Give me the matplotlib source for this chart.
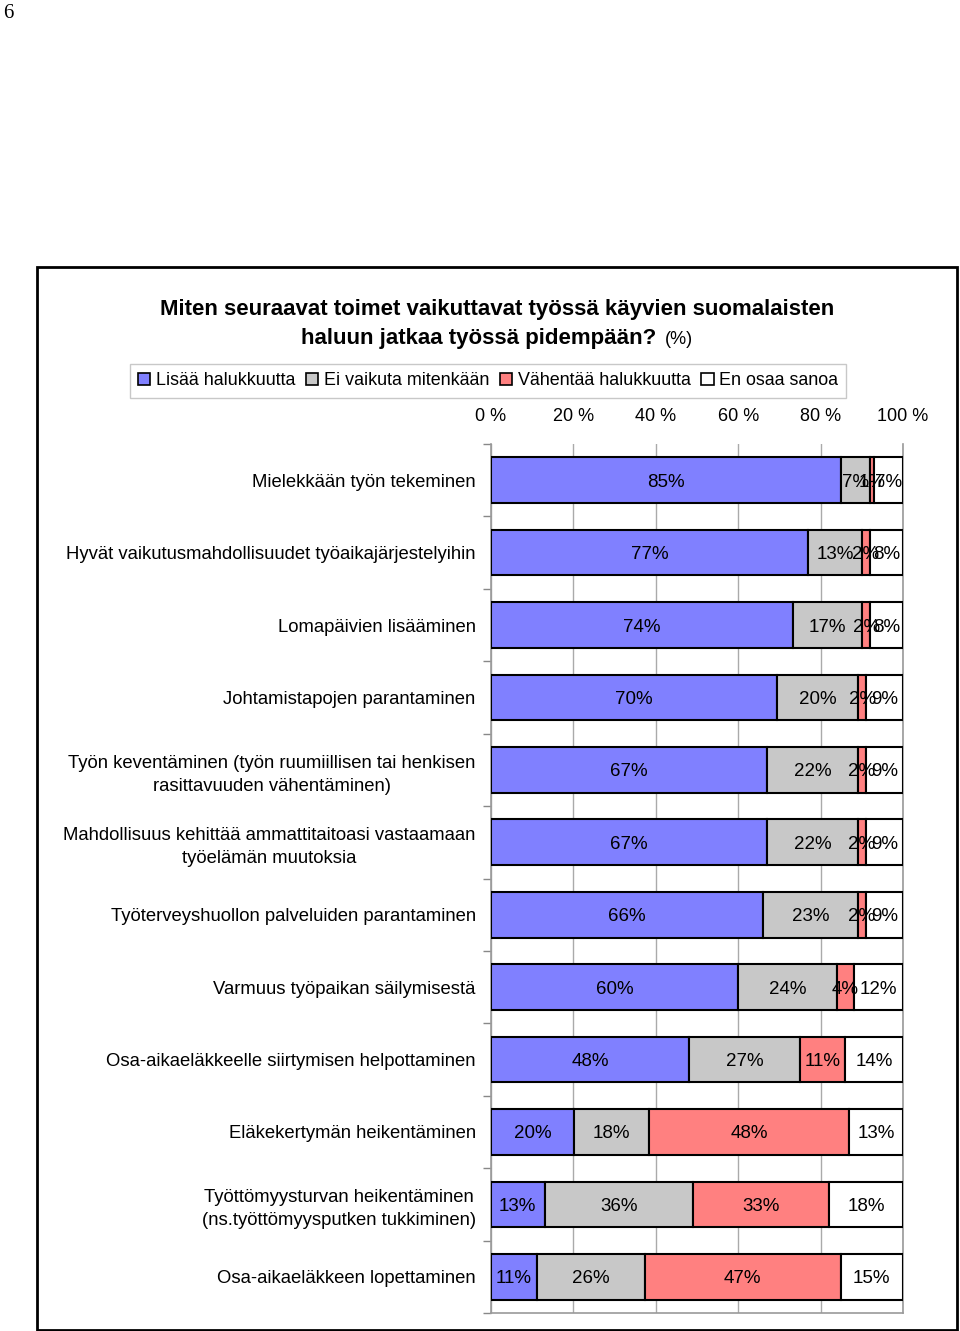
import matplotlib.pyplot as plt
import numpy as np
from matplotlib.patches import Rectangle, Patch

plt.rcParams['font.family'] = ['Liberation Sans', 'DejaVu Sans']

categories = [
    "Mielekkään työn tekeminen",
    "Hyvät vaikutusmahdollisuudet työaikajärjestelyihin",
    "Lomapäivien lisääminen",
    "Johtamistapojen parantaminen",
    "Työn keventäminen (työn ruumiillisen tai henkisen\nrasittavuuden vähentäminen)",
    "Mahdollisuus kehittää ammattitaitoasi vastaamaan\ntyöelämän muutoksia",
    "Työterveyshuollon palveluiden parantaminen",
    "Varmuus työpaikan säilymisestä",
    "Osa-aikaeläkkeelle siirtymisen helpottaminen",
    "Eläkekertymän heikentäminen",
    "Työttömyysturvan heikentäminen\n(ns.työttömyysputken tukkiminen)",
    "Osa-aikaeläkkeen lopettaminen",
]
lisaa = [85, 77, 74, 70, 67, 67, 66, 60, 48, 20, 13, 11]
ei_vaikuta = [7, 13, 17, 20, 22, 22, 23, 24, 27, 18, 36, 26]
vahentaa = [1, 2, 2, 2, 2, 2, 2, 4, 11, 48, 33, 47]
en_osaa = [7, 8, 8, 9, 9, 9, 9, 12, 14, 13, 18, 15]

series_names = ["Lisää halukkuutta", "Ei vaikuta mitenkään",
                "Vähentää halukkuutta", "En osaa sanoa"]
series_colors = ["#8080FF", "#C8C8C8", "#FF8080", "#FFFFFF"]
x_ticks = [0, 20, 40, 60, 80, 100]

data = np.array([lisaa, ei_vaikuta, vahentaa, en_osaa], dtype=float)
share = data / data.sum(axis=0) * 100

fig = plt.figure(figsize=(9.6, 13.31), dpi=100)
ax = fig.add_axes([491 / 960, 1 - 1313 / 1331, 412 / 960, (1313 - 444) / 1331])

y = np.arange(len(categories))
left = np.zeros(len(categories))
for vals, raw, name, col in zip(share, data, series_names, series_colors):
    ax.barh(y, vals, left=left, height=0.63, color=col, edgecolor='black',
            linewidth=1.5, label=name, zorder=3)
    for yi, (l, v, r) in enumerate(zip(left, vals, raw)):
        ax.text(l + v / 2, yi, f'{int(r)}%', ha='center', va='center_baseline',
                fontsize=13.5, zorder=4)
    left += vals

ax.set_xlim(0, 100)
ax.set_ylim(len(categories) - 0.5, -0.5)
ax.set_xticks(x_ticks)
ax.set_xticklabels([f'{t} %' for t in x_ticks], fontsize=13)
ax.xaxis.tick_top()
ax.tick_params(axis='x', length=0, pad=14)
ax.set_yticks(y)
ax.set_yticklabels(categories, fontsize=13.3, multialignment='center',
                   linespacing=1.45)
ax.tick_params(axis='y', which='major', length=0, pad=11)
ax.set_yticks(np.arange(-0.5, len(categories)), minor=True)
ax.tick_params(axis='y', which='minor', length=6, color='#888888', width=1)
ax.grid(axis='x', color='#AAAAAA', linewidth=1, zorder=0)
ax.spines['top'].set_visible(False)
for side in ['left', 'bottom', 'right']:
    ax.spines[side].set_color('#999999')
    ax.spines[side].set_linewidth(1.2)

# Title
fig.text(497 / 960, 1 - 309 / 1331,
         "Miten seuraavat toimet vaikuttavat työssä käyvien suomalaisten",
         ha='center', va='center', fontsize=16, fontweight='bold')
fig.text(479 / 960, 1 - 339 / 1331, "haluun jatkaa työssä pidempään?",
         ha='center', va='center', fontsize=16, fontweight='bold')
fig.text(665 / 960, 1 - 340 / 1331, "(%)", ha='left', va='center', fontsize=13)

# Legend
handles = [Patch(facecolor=c, edgecolor='black', linewidth=1.2) for c in series_colors]
leg = fig.legend(handles, series_names, loc='center', ncol=4,
                 bbox_to_anchor=(488 / 960, 1 - 381 / 1331), fontsize=12.9,
                 handlelength=0.7, handleheight=0.7, handletextpad=0.3,
                 columnspacing=0.6, borderpad=0.45, fancybox=False,
                 edgecolor='#BBBBBB')
leg.get_frame().set_linewidth(1)

# Outer frame
fig.add_artist(Rectangle((37 / 960, 1 / 1331), 920 / 960, 1063 / 1331,
                         transform=fig.transFigure, fill=False,
                         edgecolor='black', linewidth=2))

# Page number
fig.text(3 / 960, 1 - 13 / 1331, "6", ha='left', va='center', fontsize=15,
         family=['Liberation Serif', 'DejaVu Serif'])

fig.savefig('out.png', dpi=100)
